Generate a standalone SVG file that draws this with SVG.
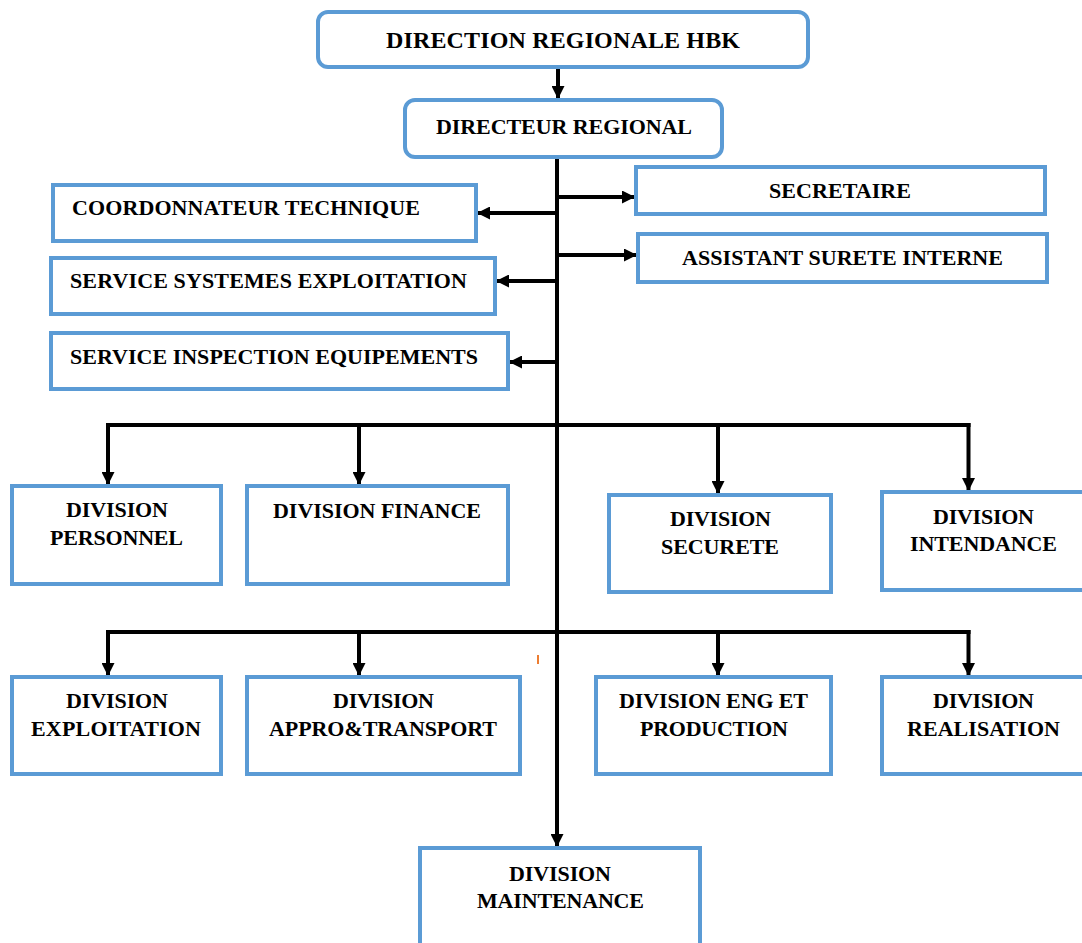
<svg xmlns="http://www.w3.org/2000/svg" width="1082" height="943" viewBox="0 0 1082 943">
<style>
.box{fill:#fff;stroke:#5B9BD5;stroke-width:4}
text{font-family:'Liberation Serif','Times New Roman',Times,serif;font-weight:700;fill:#000;font-size:22px}
.c{text-anchor:middle}
.ln{stroke:#000;stroke-width:4;fill:none}
.ar{stroke:#000;stroke-width:4;fill:none;marker-end:url(#ah)}
</style>
<defs>
<marker id="ah" viewBox="0 0 10 10" refX="10" refY="5" markerWidth="13" markerHeight="13" markerUnits="userSpaceOnUse" orient="auto">
<path d="M0,0 L10,5 L0,10 Z" fill="#000"/>
</marker>
</defs>
<rect width="1082" height="943" fill="#fff"/>
<g id="connectors">
<line class="ar" x1="558" y1="67" x2="558" y2="99"/>
<line class="ar" x1="557" y1="157" x2="557" y2="847"/>
<line class="ar" x1="557" y1="197" x2="635" y2="197"/>
<line class="ar" x1="557" y1="255" x2="637" y2="255"/>
<line class="ar" x1="557" y1="213" x2="477" y2="213"/>
<line class="ar" x1="557" y1="281" x2="496" y2="281"/>
<line class="ar" x1="557" y1="362" x2="509" y2="362"/>
<line class="ln" x1="106" y1="425" x2="970.5" y2="425"/>
<line class="ar" x1="108" y1="423" x2="108" y2="485"/>
<line class="ar" x1="359" y1="425" x2="359" y2="485"/>
<line class="ar" x1="718" y1="425" x2="718" y2="494"/>
<line class="ar" x1="968.5" y1="423" x2="968.5" y2="491"/>
<line class="ln" x1="106" y1="632" x2="970.5" y2="632"/>
<line class="ar" x1="108" y1="630" x2="108" y2="676"/>
<line class="ar" x1="359" y1="632" x2="359" y2="676"/>
<line class="ar" x1="718" y1="632" x2="718" y2="676"/>
<line class="ar" x1="968.5" y1="630" x2="968.5" y2="676"/>
<line x1="538" y1="655" x2="538" y2="664" stroke="#ED7D31" stroke-width="2"/>
</g>
<g id="direction">
<rect class="box" x="318" y="12" width="490" height="55" rx="10"/>
<text class="c" x="563" y="48" style="font-size:24px" textLength="354">DIRECTION REGIONALE HBK</text>
</g>
<g id="directeur">
<rect class="box" x="405" y="100" width="317" height="57" rx="10"/>
<text class="c" x="564" y="134" textLength="256">DIRECTEUR REGIONAL</text>
</g>
<g id="secretaire">
<rect class="box" x="636" y="167" width="409" height="47"/>
<text class="c" x="840" y="198" textLength="142">SECRETAIRE</text>
</g>
<g id="assistant">
<rect class="box" x="638" y="234" width="409" height="48"/>
<text class="c" x="842.5" y="265" textLength="321">ASSISTANT SURETE INTERNE</text>
</g>
<g id="coordonnateur">
<rect class="box" x="53" y="185" width="423" height="56"/>
<text x="72" y="215" textLength="348">COORDONNATEUR TECHNIQUE</text>
</g>
<g id="systemes">
<rect class="box" x="51" y="258" width="444" height="56"/>
<text x="70" y="288" textLength="397">SERVICE SYSTEMES EXPLOITATION</text>
</g>
<g id="inspection">
<rect class="box" x="51" y="333" width="457" height="56"/>
<text x="70" y="364" textLength="408">SERVICE INSPECTION EQUIPEMENTS</text>
</g>
<g id="personnel">
<rect class="box" x="12" y="486" width="209" height="98"/>
<text class="c" x="117" y="517" textLength="102">DIVISION</text>
<text class="c" x="116.5" y="545" textLength="133">PERSONNEL</text>
</g>
<g id="finance">
<rect class="box" x="247" y="486" width="261" height="98"/>
<text class="c" x="377" y="518" textLength="208">DIVISION FINANCE</text>
</g>
<g id="securete">
<rect class="box" x="609" y="495" width="222" height="97"/>
<text class="c" x="720.5" y="526" textLength="101">DIVISION</text>
<text class="c" x="720" y="554" textLength="118">SECURETE</text>
</g>
<g id="intendance">
<rect class="box" x="882" y="492" width="210" height="98"/>
<text class="c" x="983.5" y="524" textLength="101">DIVISION</text>
<text class="c" x="983.5" y="551" textLength="147">INTENDANCE</text>
</g>
<g id="exploitation">
<rect class="box" x="12" y="677" width="209" height="97"/>
<text class="c" x="117" y="708" textLength="102">DIVISION</text>
<text class="c" x="116" y="736" textLength="170">EXPLOITATION</text>
</g>
<g id="appro">
<rect class="box" x="247" y="677" width="273" height="97"/>
<text class="c" x="383.5" y="708" textLength="101">DIVISION</text>
<text class="c" x="383" y="736" textLength="228">APPRO&amp;TRANSPORT</text>
</g>
<g id="eng">
<rect class="box" x="596" y="677" width="235" height="97"/>
<text class="c" x="713.5" y="708" textLength="189">DIVISION ENG ET</text>
<text class="c" x="714" y="736" textLength="148">PRODUCTION</text>
</g>
<g id="realisation">
<rect class="box" x="882" y="677" width="210" height="97"/>
<text class="c" x="983.5" y="708" textLength="101">DIVISION</text>
<text class="c" x="983.5" y="736" textLength="153">REALISATION</text>
</g>
<g id="maintenance">
<rect class="box" x="420" y="848" width="280" height="110"/>
<text class="c" x="560" y="881" textLength="102">DIVISION</text>
<text class="c" x="560.5" y="908" textLength="167">MAINTENANCE</text>
</g>
</svg>
